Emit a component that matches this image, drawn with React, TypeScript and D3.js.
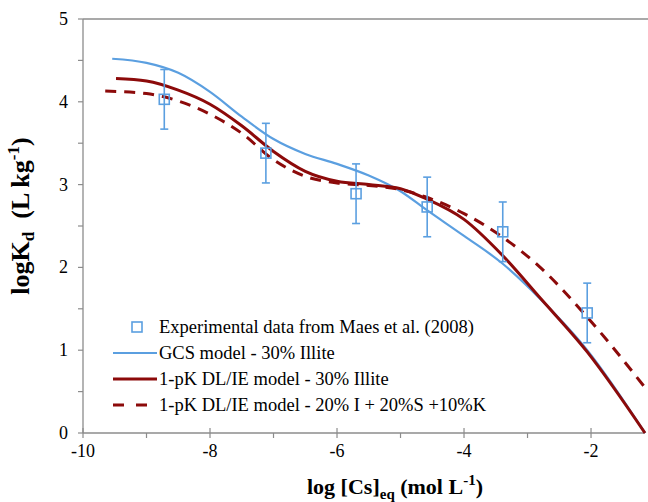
import React, { useEffect, useRef } from 'react';
import * as d3 from 'd3';

// experimental points: log [Cs]eq, logKd, error
const expX = [-8.72, -7.12, -5.7, -4.58, -3.39, -2.06];
const expY = [4.03, 3.38, 2.89, 2.73, 2.43, 1.45];
const expErr = [0.36, 0.36, 0.36, 0.36, 0.36, 0.36];

const gcsX = [-9.54, -9.0, -8.5, -8.0, -7.5, -7.0, -6.5, -6.0, -5.5, -5.0, -4.6, -4.0, -3.4, -2.8, -2.06, -1.15];
const gcsY = [4.52, 4.47, 4.35, 4.12, 3.82, 3.55, 3.37, 3.25, 3.11, 2.92, 2.7, 2.38, 2.05, 1.62, 1.0, 0];

const pkX = [-9.48, -9.0, -8.5, -8.0, -7.5, -7.0, -6.5, -6.0, -5.5, -5.0, -4.6, -4.0, -3.4, -2.8, -2.06, -1.15];
const pkY = [4.28, 4.25, 4.14, 3.97, 3.71, 3.4, 3.16, 3.04, 3.0, 2.95, 2.83, 2.58, 2.15, 1.63, 0.98, 0];

const mixX = [-9.65, -9.0, -8.5, -8.0, -7.5, -7.0, -6.5, -6.0, -5.5, -5.0, -4.6, -4.0, -3.4, -2.8, -2.06, -1.12];
const mixY = [4.13, 4.1, 4.01, 3.85, 3.62, 3.3, 3.1, 3.02, 2.99, 2.94, 2.85, 2.65, 2.37, 2.0, 1.4, 0.52];

const xTicks = [-10, -8, -6, -4, -2];
const yTicks = [0, 1, 2, 3, 4, 5];

const legendLabels = [
  'Experimental data from Maes et al. (2008)',
  'GCS model - 30% Illite',
  '1-pK DL/IE model - 30% Illite',
  '1-pK DL/IE model - 20% I + 20%S +10%K',
];

const BLUE = '#5b9fe0';
const RED = '#8c0a0a';
const AXIS = '#8c8c8c';

export default function App() {
  const ref = useRef<SVGSVGElement>(null);

  useEffect(() => {
    const svg = d3.select(ref.current);
    svg.selectAll('*').remove();

    const x = d3.scaleLinear().domain([-10, -1.15]).range([83, 645]);
    const y = d3.scaleLinear().domain([0, 5]).range([433, 19]);
    const font = "'Liberation Serif', 'Times New Roman', serif";

    // top gridline at 5
    svg.append('line')
      .attr('x1', x(-10)).attr('x2', 648)
      .attr('y1', y(5)).attr('y2', y(5))
      .attr('stroke', AXIS).attr('stroke-width', 1.3);

    // axes
    svg.append('line')
      .attr('x1', x(-10)).attr('x2', x(-1.15))
      .attr('y1', y(0)).attr('y2', y(0))
      .attr('stroke', AXIS).attr('stroke-width', 1.3);
    svg.append('line')
      .attr('x1', x(-10)).attr('x2', x(-10))
      .attr('y1', y(0)).attr('y2', y(5))
      .attr('stroke', AXIS).attr('stroke-width', 1.3);

    // y ticks (major + minor)
    d3.range(0, 5.01, 0.5).forEach(v => {
      svg.append('line')
        .attr('x1', x(-10) - 5).attr('x2', x(-10))
        .attr('y1', y(v)).attr('y2', y(v))
        .attr('stroke', AXIS).attr('stroke-width', 1.2);
    });
    yTicks.forEach(v => {
      svg.append('text')
        .attr('x', 68).attr('y', y(v) + 6)
        .attr('text-anchor', 'end')
        .style('font-family', font).style('font-size', '18px')
        .text(v);
    });

    // x ticks
    d3.range(-10, -1.5, 1).forEach(v => {
      const major = Math.abs(v % 2) === 0;
      svg.append('line')
        .attr('x1', x(v)).attr('x2', x(v))
        .attr('y1', major ? y(0) - 5 : y(0)).attr('y2', y(0) + 5)
        .attr('stroke', AXIS).attr('stroke-width', 1.2);
    });
    xTicks.forEach(v => {
      svg.append('text')
        .attr('x', x(v)).attr('y', 457)
        .attr('text-anchor', 'middle')
        .style('font-family', font).style('font-size', '18px')
        .text(v);
    });

    // axis titles
    const xt = svg.append('text')
      .attr('x', 395).attr('y', 494)
      .attr('text-anchor', 'middle')
      .style('font-family', font).style('font-size', '22px').style('font-weight', 'bold');
    xt.append('tspan').text('log [Cs]');
    xt.append('tspan').style('font-size', '15px').attr('dy', 5).text('eq');
    xt.append('tspan').attr('dy', -5).text(' (mol L');
    xt.append('tspan').style('font-size', '15px').attr('dy', -9).text('-1');
    xt.append('tspan').attr('dy', 9).text(')');

    const yt = svg.append('text')
      .attr('transform', `translate(29,${216}) rotate(-90)`)
      .attr('text-anchor', 'middle')
      .style('font-family', font).style('font-size', '26px').style('font-weight', 'bold');
    yt.append('tspan').text('logK');
    yt.append('tspan').style('font-size', '17px').attr('dy', 5).text('d');
    yt.append('tspan').attr('dy', -5).text('\u00a0 (L kg');
    yt.append('tspan').style('font-size', '17px').attr('dy', -10).text('-1');
    yt.append('tspan').attr('dy', 10).text(')');

    const line = d3.line<number[]>()
      .x(d => x(d[0]))
      .y(d => y(d[1]))
      .curve(d3.curveMonotoneX);

    const series = [
      { xs: gcsX, ys: gcsY, color: BLUE, width: 2.2, dash: null },
      { xs: pkX, ys: pkY, color: RED, width: 3, dash: null },
      { xs: mixX, ys: mixY, color: RED, width: 3, dash: '11,8' },
    ];

    series.forEach(s => {
      svg.append('path')
        .datum(s.xs.map((v, i) => [v, s.ys[i]]))
        .attr('d', line as any)
        .attr('fill', 'none')
        .attr('stroke', s.color)
        .attr('stroke-width', s.width)
        .attr('stroke-dasharray', s.dash);
    });

    // experimental data with error bars
    expX.forEach((v, i) => {
      const cx = x(v);
      const top = y(expY[i] + expErr[i]);
      const bot = y(expY[i] - expErr[i]);
      svg.append('line').attr('x1', cx).attr('x2', cx).attr('y1', top).attr('y2', bot)
        .attr('stroke', BLUE).attr('stroke-width', 1.6);
      [top, bot].forEach(yy => {
        svg.append('line').attr('x1', cx - 4).attr('x2', cx + 4).attr('y1', yy).attr('y2', yy)
          .attr('stroke', BLUE).attr('stroke-width', 1.6);
      });
      svg.append('rect')
        .attr('x', cx - 5).attr('y', y(expY[i]) - 5)
        .attr('width', 10).attr('height', 10)
        .attr('fill', 'none').attr('stroke', BLUE).attr('stroke-width', 1.6);
    });

    // legend
    const rows = [327, 353, 379, 405];
    const lg = svg.append('g');
    lg.append('rect')
      .attr('x', 132).attr('y', rows[0] - 5).attr('width', 10).attr('height', 10)
      .attr('fill', 'white').attr('stroke', BLUE).attr('stroke-width', 1.6);
    series.forEach((s, i) => {
      lg.append('line')
        .attr('x1', 113).attr('x2', 157)
        .attr('y1', rows[i + 1]).attr('y2', rows[i + 1])
        .attr('stroke', s.color).attr('stroke-width', s.width)
        .attr('stroke-dasharray', s.dash ? '11,12' : null);
    });
    legendLabels.forEach((t, i) => {
      lg.append('text')
        .attr('x', 159).attr('y', rows[i] + 6)
        .style('font-family', font).style('font-size', '18.5px')
        .text(t);
    });
  }, []);

  return (
    <svg
      ref={ref}
      width={648}
      height={502}
      style={{ position: 'absolute', left: 0, top: 0, background: 'white' }}
    />
  );
}
